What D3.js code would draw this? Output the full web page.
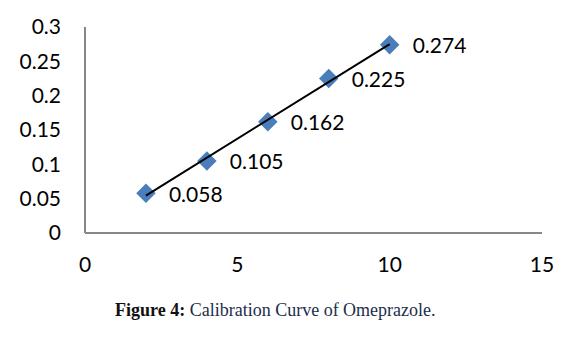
<!DOCTYPE html>
<html><head><meta charset="utf-8">
<script src="https://cdn.jsdelivr.net/npm/d3@7"></script>
<style>body{margin:0;background:#fff}</style>
</head><body>
<svg id="c" width="573" height="339"></svg>
<script>
const xValues = [2, 4, 6, 8, 10];
const yValues = [0.058, 0.105, 0.162, 0.225, 0.274];
const pointLabels = ["0.058", "0.105", "0.162", "0.225", "0.274"];
const xTicks = [0, 5, 10, 15];
const yTicks = [0, 0.05, 0.1, 0.15, 0.2, 0.25, 0.3];
const yTickLabels = ["0", "0.05", "0.1", "0.15", "0.2", "0.25", "0.3"];

const svg = d3.select("#c");
const x = d3.scaleLinear().domain([0, 15]).range([85, 542]);
const y = d3.scaleLinear().domain([0, 0.3]).range([233, 27]);
const font = "Lato, 'Liberation Sans', sans-serif";
const fs = 21;

// axes lines
svg.append("line").attr("x1", x(0)).attr("x2", x(0)).attr("y1", y(0.3)).attr("y2", y(0))
  .attr("stroke", "#878787").attr("stroke-width", 2);
svg.append("line").attr("x1", x(0)).attr("x2", x(15)).attr("y1", y(0)).attr("y2", y(0))
  .attr("stroke", "#878787").attr("stroke-width", 2);

// tick labels
svg.selectAll(".yt").data(yTicks).enter().append("text")
  .attr("x", 61).attr("y", d => y(d)).attr("dy", "0.35em")
  .attr("text-anchor", "end").attr("font-family", font).attr("font-size", fs)
  .attr("fill", "#000").text((d, i) => yTickLabels[i]);
svg.selectAll(".xt").data(xTicks).enter().append("text")
  .attr("x", d => x(d)).attr("y", 265).attr("dy", "0.35em")
  .attr("text-anchor", "middle").attr("font-family", font).attr("font-size", fs)
  .attr("fill", "#000").text(d => d);

// linear trendline
const n = xValues.length;
const mx = d3.mean(xValues), my = d3.mean(yValues);
let sxy = 0, sxx = 0;
for (let i = 0; i < n; i++) { sxy += (xValues[i]-mx)*(yValues[i]-my); sxx += (xValues[i]-mx)**2; }
const slope = sxy/sxx, icpt = my - slope*mx;
const x0 = d3.min(xValues), x1 = d3.max(xValues);

// markers
svg.selectAll(".pt").data(xValues).enter().append("path")
  .attr("d", d3.symbol().type(d3.symbolSquare).size(190))
  .attr("transform", (d, i) => `translate(${x(d)},${y(yValues[i])}) rotate(45)`)
  .attr("fill", "#4a7ebb");

svg.append("line").attr("x1", x(x0)).attr("y1", y(slope*x0+icpt))
  .attr("x2", x(x1)).attr("y2", y(slope*x1+icpt))
  .attr("stroke", "#000").attr("stroke-width", 2);

// data labels
svg.selectAll(".dl").data(xValues).enter().append("text")
  .attr("x", d => x(d) + 23).attr("y", (d, i) => y(yValues[i]) + 1).attr("dy", "0.35em")
  .attr("font-family", font).attr("font-size", fs).attr("fill", "#000")
  .text((d, i) => pointLabels[i]);

// caption
const cap = svg.append("text").attr("x", 115).attr("y", 316)
  .attr("font-family", "'Liberation Serif', 'DejaVu Serif', serif").attr("font-size", 18);
cap.append("tspan").attr("font-weight", "bold").attr("fill", "#111").text("Figure 4: ");
cap.append("tspan").attr("fill", "#1c2e4a").text("Calibration Curve of Omeprazole.");
</script>
</body></html>
